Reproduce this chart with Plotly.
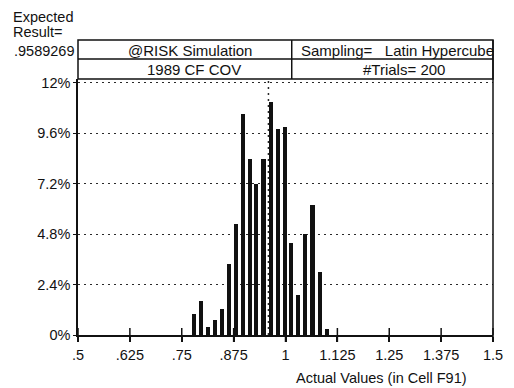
import plotly.graph_objects as go

# ---- data ----
bin_centers = [0.779, 0.796, 0.813, 0.830, 0.846, 0.863, 0.880, 0.897, 0.914, 0.930,
               0.947, 0.964, 0.981, 0.998, 1.014, 1.031, 1.048, 1.065, 1.082, 1.099]
pct_values = [1.0, 1.6, 0.4, 0.7, 1.25, 3.4, 5.3, 10.5, 8.4, 7.2,
              8.4, 11.1, 9.8, 9.9, 4.4, 1.9, 4.8, 6.2, 3.0, 0.3]
x_tick_vals = [0.5, 0.625, 0.75, 0.875, 1.0, 1.125, 1.25, 1.375, 1.5]
x_tick_text = [".5", ".625", ".75", ".875", "1", "1.125", "1.25", "1.375", "1.5"]
y_tick_vals = [0, 2.4, 4.8, 7.2, 9.6, 12]
y_tick_text = ["0%", "2.4%", "4.8%", "7.2%", "9.6%", "12%"]
expected_value = 0.9589269
header_left = ["@RISK Simulation", "1989 CF COV"]
header_right = ["Sampling=\u00a0\u00a0\u00a0Latin Hypercube", "#Trials=\u00a0200"]
x_title = "Actual Values (in Cell F91)"

FONT = "Liberation Sans, Arial, sans-serif"
INK = "#111111"

fig = go.Figure()
fig.add_trace(go.Bar(x=bin_centers, y=pct_values, width=0.0098,
                     marker=dict(color=INK, line=dict(width=0)), showlegend=False,
                     hoverinfo="skip"))
# crossing tick marks on the baseline
fig.add_trace(go.Scatter(x=x_tick_vals, y=[0] * len(x_tick_vals), mode="markers",
                         marker=dict(symbol="line-ns", size=10,
                                     line=dict(width=1.5, color=INK)),
                         cliponaxis=False, showlegend=False, hoverinfo="skip"))

fig.update_layout(
    width=514, height=388,
    margin=dict(l=78, r=11, t=79, b=53),
    paper_bgcolor="white", plot_bgcolor="white",
    font=dict(family=FONT, size=14, color=INK),
    bargap=0,
    xaxis=dict(range=[0.5, 1.5], tickvals=x_tick_vals, ticktext=x_tick_text,
               showgrid=False, zeroline=False, showline=True, linecolor=INK,
               linewidth=1.5, ticks="outside", ticklen=5, tickwidth=1.5,
               tickcolor=INK, tickfont=dict(size=14.5), ticklabelstandoff=1),
    yaxis=dict(range=[0, 12.19], tickvals=y_tick_vals, ticktext=y_tick_text,
               showgrid=True, gridcolor="#2a2a2a", gridwidth=1.4, griddash="2px,4px",
               zeroline=False, showline=True, linecolor=INK, linewidth=1.5,
               ticks="outside", ticklen=3, tickcolor=INK, tickwidth=1,
               tickfont=dict(size=14.5), ticklabelstandoff=0),
)

shapes = []
# expected value dotted line
shapes.append(dict(type="line", xref="x", yref="paper", x0=expected_value, x1=expected_value,
                   y0=0, y1=1, line=dict(color="#2a2a2a", width=1.5, dash="2px,4px"),
                   layer="below"))
# right border
shapes.append(dict(type="line", xref="paper", yref="paper", x0=1, x1=1, y0=0, y1=1.152,
                   line=dict(color=INK, width=1.5)))
# header box
shapes.append(dict(type="rect", xref="paper", yref="paper", x0=0, x1=1, y0=1, y1=1.152,
                   line=dict(color=INK, width=1.5)))
shapes.append(dict(type="line", xref="paper", yref="paper", x0=0, x1=1, y0=1.078, y1=1.078,
                   line=dict(color=INK, width=1.5)))
shapes.append(dict(type="line", xref="paper", yref="paper", x0=0.515, x1=0.515, y0=1, y1=1.152,
                   line=dict(color=INK, width=1.5)))
fig.update_layout(shapes=shapes)

ann = []
def txt(s, x, y, xa="center", size=14.5):
    ann.append(dict(text=s, x=x, y=y, xref="paper", yref="paper", xanchor=xa,
                    yanchor="middle", showarrow=False, font=dict(size=size, color=INK)))

txt("Expected", -0.162, 1.242, "left")
txt("Result=", -0.162, 1.184, "left")
txt(".9589269", -0.160, 1.109, "left")
txt(header_left[0], 0.27, 1.110, size=15)
txt(header_left[1], 0.28, 1.037, size=15)
txt(header_right[0], 0.77, 1.110, size=15)
txt(header_right[1], 0.785, 1.037, size=15)
txt(x_title, 0.732, -0.168, "center", 14.5)
fig.update_layout(annotations=ann)

fig.write_html("out.html")
